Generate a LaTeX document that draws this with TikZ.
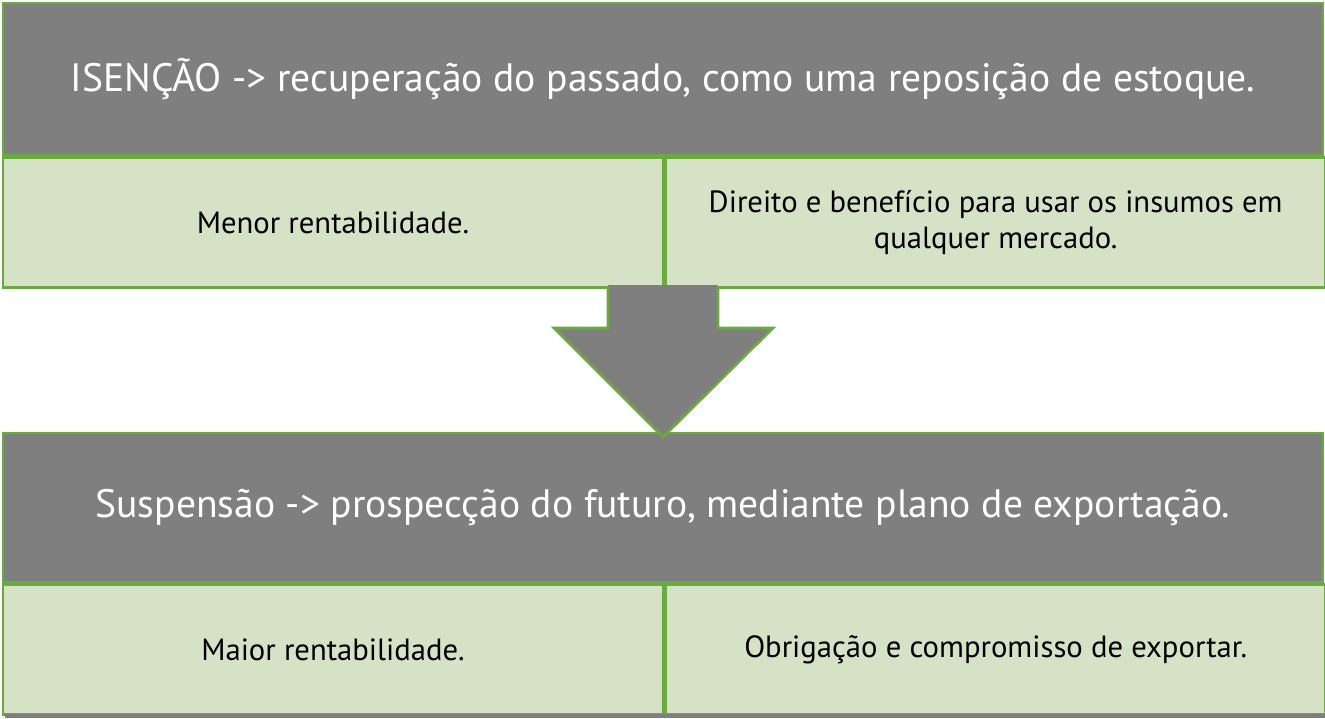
\documentclass[tikz,border=0pt]{standalone}
\usepackage{fontspec}
\setmainfont{PT Sans}
\usetikzlibrary{positioning}
\definecolor{cinza}{HTML}{7F7F7F}
\definecolor{verdeborda}{HTML}{6AAB3F}
\definecolor{verdeclaro}{HTML}{D5E2C6}

\begin{document}
\begin{tikzpicture}[x=0.75pt,y=-0.75pt,
    titulo/.style={draw=verdeborda, line width=2pt, fill=cinza, text=white, minimum width=990pt, inner sep=0pt, font=\fontsize{29.7}{34}\selectfont},
    caixa/.style={draw=verdeborda, line width=2pt, fill=verdeclaro, minimum width=495pt, minimum height=97.5pt, inner sep=0pt, align=center, font=\fontsize{23}{27}\selectfont},
    seta/.style={draw=verdeborda, line width=2pt, line join=miter}]
        \useasboundingbox (0,0) rectangle (1325,718);

        % Isencao
        \node[titulo, minimum height=114pt] (isencao) at (663,79) {ISENÇÃO -> recuperação do passado, como uma reposição de estoque.};
        \node[caixa, below right=0pt and 0pt of isencao.south west] (menor) {Menor rentabilidade.};
        \node[caixa, right=0pt of menor] (direito) {Direito e benefício para usar os insumos em\\qualquer mercado.};

        % Suspensao
        \node[titulo, minimum height=111.75pt] (suspensao) at (663,507.5) {Suspensão -> prospecção do futuro, mediante plano de exportação.};
        \node[caixa, below right=0pt and 0pt of suspensao.south west] (maior) {Maior rentabilidade.};
        \node[caixa, right=0pt of maior] (obrigacao) {Obrigação e compromisso de exportar.};
        \fill[cinza] (5,714) rectangle (1325,718);

        % Seta
        \coordinate (ponta) at (663,437);
        \fill[cinza] (608,285) -- (608,328) -- (554,328) -- (ponta) -- (773,328) -- (718,328) -- (718,285) -- cycle;
        \draw[seta] (608,286) -- (608,328) -- (554,328) -- (ponta) -- (773,328) -- (718,328) -- (718,286);
\end{tikzpicture}
\end{document}
